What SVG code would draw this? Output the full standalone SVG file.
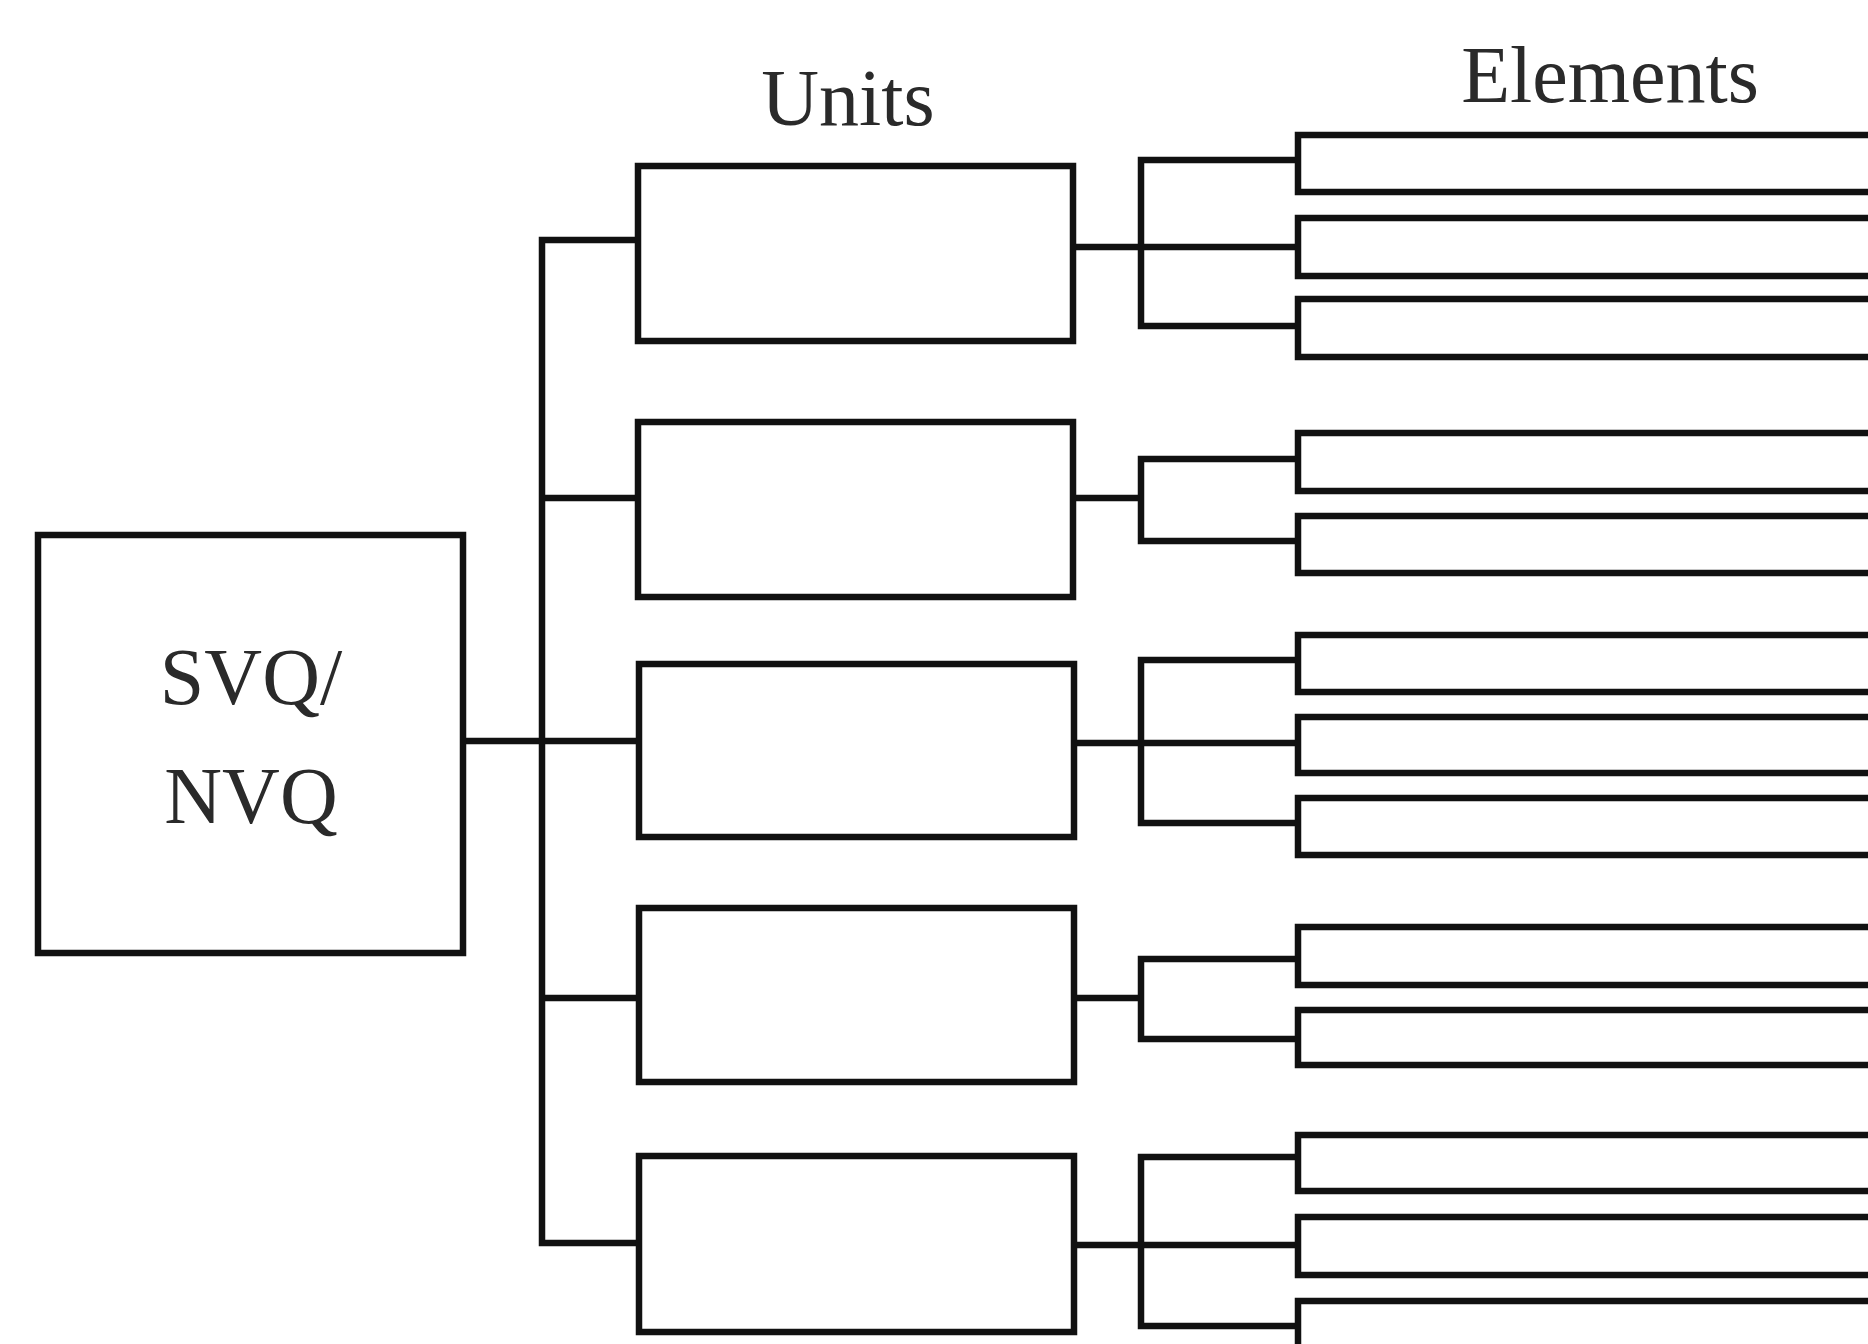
<svg xmlns="http://www.w3.org/2000/svg" width="1868" height="1344" viewBox="0 0 1868 1344">
<style>
.box{fill:#fff;stroke:#111;stroke-width:6.5}
.lbl{font-family:"Liberation Serif","Times New Roman",serif;font-size:80px;fill:#2a2a2a;text-anchor:middle}
.con{fill:none;stroke:#111;stroke-width:6.5;stroke-linecap:square}
</style>
<rect width="1868" height="1344" fill="#fff"/>
<text class="lbl" x="848" y="125">Units</text>
<text class="lbl" x="1610" y="102">Elements</text>
<g id="connectors">
<path class="con" d="M463 741H542M542 240V1243M542 240H638M542 498H638M542 741H638M542 998H638M542 1243H638"/>
<path class="con" d="M1073 247H1141M1141 160V326M1141 160H1298M1141 247H1298M1141 326H1298"/>
<path class="con" d="M1073 498H1141M1141 459V541M1141 459H1298M1141 541H1298"/>
<path class="con" d="M1073 743H1141M1141 660V823M1141 660H1298M1141 743H1298M1141 823H1298"/>
<path class="con" d="M1073 998H1141M1141 959V1039M1141 959H1298M1141 1039H1298"/>
<path class="con" d="M1073 1245H1141M1141 1157V1326M1141 1157H1298M1141 1245H1298M1141 1326H1298"/>
</g>
<g id="root">
<rect class="box" x="38" y="535" width="425" height="418"/>
<text class="lbl" x="251" y="704">SVQ/</text>
<text class="lbl" x="251" y="823">NVQ</text>
</g>
<g id="unit1"><rect class="box" x="638" y="166" width="435" height="175"/></g>
<g id="unit2"><rect class="box" x="638" y="422" width="435" height="175"/></g>
<g id="unit3"><rect class="box" x="639" y="664" width="435" height="173"/></g>
<g id="unit4"><rect class="box" x="639" y="908" width="435" height="174"/></g>
<g id="unit5"><rect class="box" x="639" y="1156" width="435" height="176"/></g>
<g id="element1-1"><rect class="box" x="1298" y="135" width="600" height="57"/></g>
<g id="element1-2"><rect class="box" x="1298" y="218" width="600" height="58"/></g>
<g id="element1-3"><rect class="box" x="1298" y="299" width="600" height="58"/></g>
<g id="element2-1"><rect class="box" x="1298" y="433" width="600" height="58"/></g>
<g id="element2-2"><rect class="box" x="1298" y="516" width="600" height="57"/></g>
<g id="element3-1"><rect class="box" x="1298" y="635" width="600" height="57"/></g>
<g id="element3-2"><rect class="box" x="1298" y="717" width="600" height="56"/></g>
<g id="element3-3"><rect class="box" x="1298" y="798" width="600" height="57"/></g>
<g id="element4-1"><rect class="box" x="1298" y="927" width="600" height="58"/></g>
<g id="element4-2"><rect class="box" x="1298" y="1010" width="600" height="55"/></g>
<g id="element5-1"><rect class="box" x="1298" y="1135" width="600" height="56"/></g>
<g id="element5-2"><rect class="box" x="1298" y="1217" width="600" height="58"/></g>
<g id="element5-3"><rect class="box" x="1298" y="1301" width="600" height="80"/></g>
</svg>
